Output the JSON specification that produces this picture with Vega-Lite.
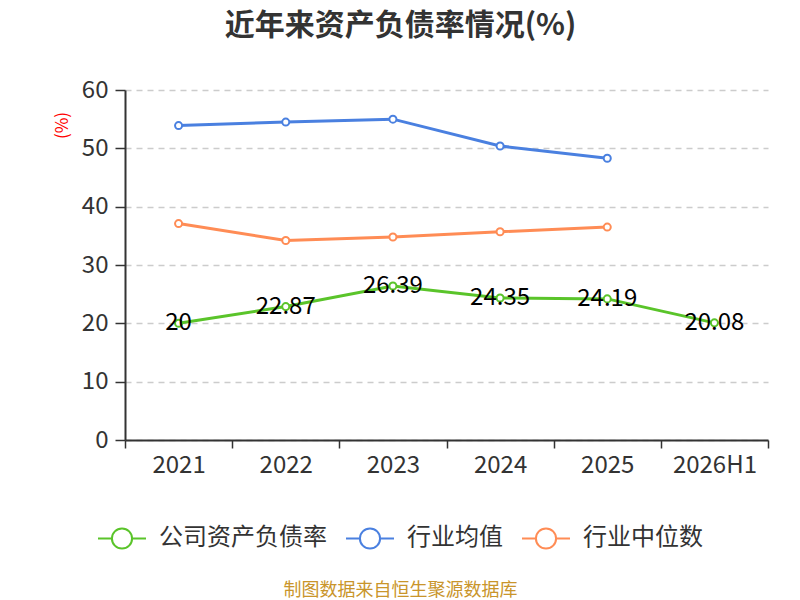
{
  "$schema": "https://vega.github.io/schema/vega-lite/v6.json",
  "autosize": {"type": "none"},
  "width": 643,
  "height": 350,
  "padding": {"left": 125, "top": 90, "right": 32, "bottom": 160},
  "background": "white",
  "config": {
    "font": "Noto Sans CJK SC",
    "view": {"stroke": null}
  },
  "title": {
    "text": "近年来资产负债率情况(%)",
    "fontSize": 30,
    "fontWeight": "bold",
    "color": "#333333",
    "anchor": "middle",
    "frame": "group",
    "dx": -46,
    "offset": 37
  },
  "data": {
    "values": [
      {"year": "2021", "series": "公司资产负债率", "value": 20},
      {"year": "2022", "series": "公司资产负债率", "value": 22.87},
      {"year": "2023", "series": "公司资产负债率", "value": 26.39},
      {"year": "2024", "series": "公司资产负债率", "value": 24.35},
      {"year": "2025", "series": "公司资产负债率", "value": 24.19},
      {"year": "2026H1", "series": "公司资产负债率", "value": 20.08},
      {"year": "2021", "series": "行业均值", "value": 53.9},
      {"year": "2022", "series": "行业均值", "value": 54.5},
      {"year": "2023", "series": "行业均值", "value": 55.0},
      {"year": "2024", "series": "行业均值", "value": 50.4},
      {"year": "2025", "series": "行业均值", "value": 48.3},
      {"year": "2021", "series": "行业中位数", "value": 37.1},
      {"year": "2022", "series": "行业中位数", "value": 34.2},
      {"year": "2023", "series": "行业中位数", "value": 34.8},
      {"year": "2024", "series": "行业中位数", "value": 35.7},
      {"year": "2025", "series": "行业中位数", "value": 36.5}
    ]
  },
  "encoding": {
    "x": {
      "field": "year",
      "type": "ordinal",
      "bandPosition": 0.5,
      "sort": ["2021", "2022", "2023", "2024", "2025", "2026H1"],
      "scale": {"type": "band", "paddingInner": 0, "paddingOuter": 0},
      "axis": {
        "title": "制图数据来自恒生聚源数据库",
        "titleColor": "#c9952b",
        "titleFontSize": 18,
        "titleFontWeight": "normal",
        "titleX": 275,
        "titleY": 150,
        "titleAlign": "center",
        "titleBaseline": "middle",
        "labelAngle": 0,
        "labelFontSize": 24,
        "labelColor": "#333333",
        "labelPadding": 5,
        "tickBand": "extent",
        "tickSize": 8,
        "tickColor": "#333333",
        "tickWidth": 1.5,
        "domainColor": "#333333",
        "domainWidth": 2,
        "grid": false
      }
    },
    "y": {
      "field": "value",
      "type": "quantitative",
      "scale": {"domain": [0, 60]},
      "axis": {
        "values": [0, 10, 20, 30, 40, 50, 60],
        "title": "(%)",
        "titleColor": "#ff0000",
        "titleFontSize": 17,
        "titleFontWeight": "normal",
        "titleX": -63,
        "titleY": 35,
        "titleAlign": "center",
        "titleBaseline": "middle",
        "labelFontSize": 24,
        "labelColor": "#333333",
        "labelPadding": 7,
        "tickSize": 10,
        "tickColor": "#333333",
        "tickWidth": 1.5,
        "domainColor": "#333333",
        "domainWidth": 2,
        "gridColor": "#cccccc",
        "gridDash": [6, 5],
        "gridWidth": 1.5
      }
    },
    "color": {
      "field": "series",
      "type": "nominal",
      "scale": {
        "domain": ["公司资产负债率", "行业均值", "行业中位数"],
        "range": ["#5ac42a", "#4a80e0", "#ff8c55"]
      },
      "legend": {
        "title": null,
        "orient": "none",
        "direction": "horizontal",
        "legendX": -28,
        "legendY": 423,
        "padding": 0,
        "symbolType": "M-1,0L-0.42,0M0.42,0L1,0M0.42,0A0.42,0.42 0 1,1 -0.42,0A0.42,0.42 0 1,1 0.42,0",
        "symbolSize": 2304,
        "symbolStrokeWidth": 2,
        "symbolFillColor": "white",
        "labelFontSize": 24,
        "labelLimit": 400,
        "labelColor": "#333333",
        "labelOffset": 12,
        "columnPadding": 15
      }
    }
  },
  "layer": [
    {"mark": {"type": "line", "strokeWidth": 3}},
    {"mark": {"type": "point", "filled": false, "fill": "white", "fillOpacity": 1, "size": 50, "strokeWidth": 2, "opacity": 1}},
    {
      "transform": [{"filter": "datum.series === '公司资产负债率'"}],
      "mark": {"type": "text", "fontSize": 24, "color": "black", "baseline": "middle", "align": "center"},
      "encoding": {
        "text": {"field": "value", "type": "quantitative"},
        "color": {"value": "black"}
      }
    }
  ]
}
